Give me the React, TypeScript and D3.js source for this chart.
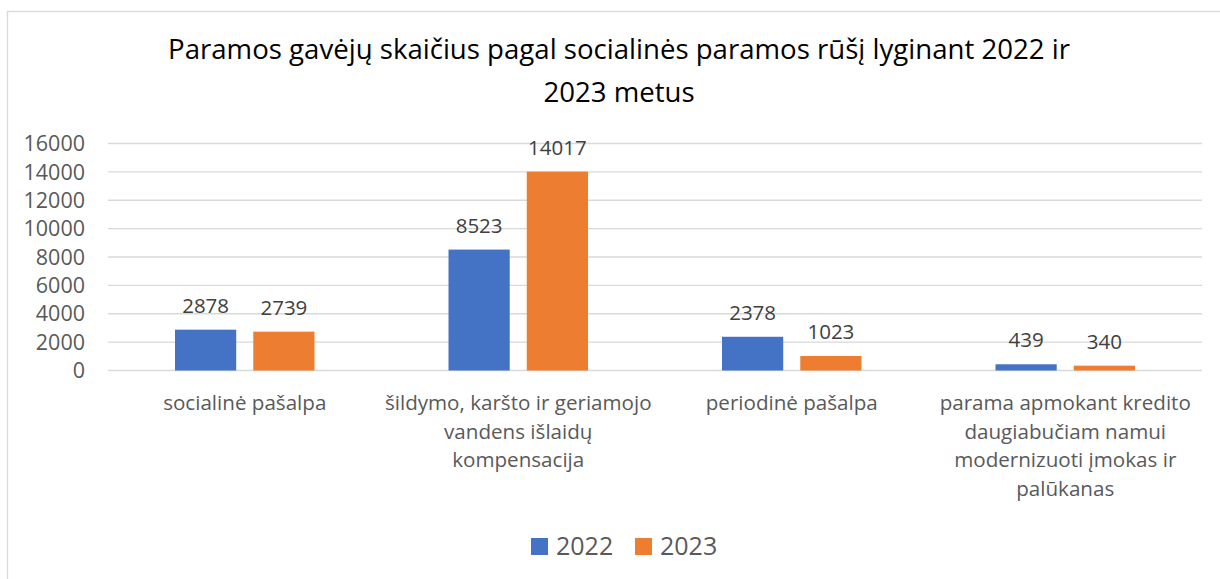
import React from 'react';
import * as d3 from 'd3';

const titleLines = [
  'Paramos gavėjų skaičius pagal socialinės paramos rūšį lyginant 2022 ir',
  '2023 metus',
];

// category labels, line breaks as in the original chart
const categories = [
  'socialinė pašalpa',
  'šildymo, karšto ir geriamojo\nvandens išlaidų\nkompensacija',
  'periodinė pašalpa',
  'parama apmokant kredito\ndaugiabučiam namui\nmodernizuoti įmokas ir\npalūkanas',
];

const seriesNames = ['2022', '2023'];
const values2022 = [2878, 8523, 2378, 439];
const values2023 = [2739, 14017, 1023, 340];
const yTicks = [0, 2000, 4000, 6000, 8000, 10000, 12000, 14000, 16000];

const colors = ['#4472C4', '#ED7D31'];
const FONT = '"Open Sans", sans-serif';

const W = 1220;
const H = 579;
const plot = { left: 108, right: 1202, top: 143.5, bottom: 370.5 };

export default function App() {
  const series = [values2022, values2023];

  const x = d3
    .scaleBand<number>()
    .domain(d3.range(categories.length))
    .range([plot.left, plot.right])
    .paddingInner(0.49)
    .paddingOuter(0.245);

  const xInner = d3
    .scaleBand<number>()
    .domain(d3.range(seriesNames.length))
    .range([0, x.bandwidth()])
    .paddingInner(0.218);

  const y = d3.scaleLinear().domain([0, 16000]).range([plot.bottom, plot.top]);

  const step = x.step();
  const catCenter = (i: number) => plot.left + step * i + step / 2;

  return (
    <svg
      width={W}
      height={H}
      style={{ position: 'absolute', left: 0, top: 0, background: '#fff' }}
    >
      <rect x={7.5} y={11.5} width={W} height={H} fill="#fff" stroke="#D9D9D9" strokeWidth={1.3} />

      {titleLines.map((t, i) => (
        <text
          key={i}
          x={619}
          y={59 + i * 42.5}
          textAnchor="middle"
          fontFamily={FONT}
          fontSize={27.6}
          fill="#000"
        >
          {t}
        </text>
      ))}

      {yTicks.map((t) => (
        <g key={t}>
          <line x1={plot.left} x2={plot.right} y1={y(t)} y2={y(t)} stroke="#D9D9D9" strokeWidth={1.3} />
          <text
            x={85}
            y={y(t)}
            dy="0.36em"
            textAnchor="end"
            fontFamily={FONT}
            fontSize={21.5}
            fill="#595959"
          >
            {t}
          </text>
        </g>
      ))}

      {categories.map((c, ci) => (
        <g key={c}>
          {series.map((vals, si) => {
            const bx = (x(ci) ?? 0) + (xInner(si) ?? 0);
            const v = vals[ci];
            return (
              <g key={si}>
                <rect
                  x={bx}
                  y={y(v)}
                  width={xInner.bandwidth()}
                  height={y(0) - y(v)}
                  fill={colors[si]}
                />
                <text
                  x={bx + xInner.bandwidth() / 2}
                  y={y(v) - 17}
                  textAnchor="middle"
                  fontFamily={FONT}
                  fontSize={20.5}
                  fill="#404040"
                >
                  {v}
                </text>
              </g>
            );
          })}
          {c.split('\n').map((line, li) => (
            <text
              key={li}
              x={catCenter(ci)}
              y={410 + li * 28.6}
              textAnchor="middle"
              fontFamily={FONT}
              fontSize={20.6}
              fill="#595959"
            >
              {line}
            </text>
          ))}
        </g>
      ))}

      {seriesNames.map((s, si) => (
        <g key={s} transform={`translate(${531 + si * 104},538)`}>
          <rect width={17} height={17} fill={colors[si]} />
          <text x={25} y={17} fontFamily={FONT} fontSize={25} fill="#595959">
            {s}
          </text>
        </g>
      ))}
    </svg>
  );
}
